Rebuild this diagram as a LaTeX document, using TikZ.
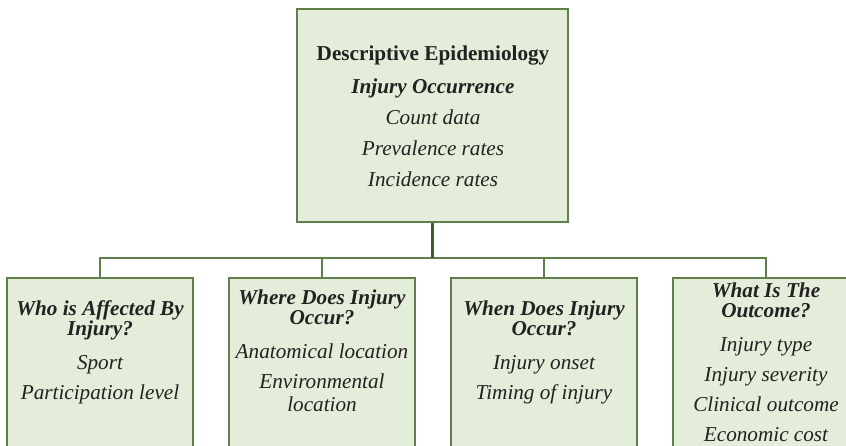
\documentclass[tikz,border=0pt]{standalone}
\usepackage{fontspec}
\setmainfont{Liberation Serif}
\definecolor{boxfill}{HTML}{E3EDD9}
\definecolor{boxline}{HTML}{5E7F4A}
\definecolor{stemline}{HTML}{3B5E2B}
\definecolor{ink}{HTML}{222222}

\begin{document}
\begin{tikzpicture}[x=1pt,y=-1pt,
  panel/.style={draw=boxline, fill=boxfill, line width=1.6pt, inner sep=0pt},
  topbox/.style={panel, minimum width=271pt, minimum height=213pt},
  catbox/.style={panel, minimum width=186pt, minimum height=200pt, anchor=north},
  body/.style={align=center, inner sep=0pt, anchor=north, text=ink,
    font=\fontsize{21.2}{30}\selectfont\itshape},
  head/.style={body, font=\fontsize{21.2}{31}\selectfont\itshape},
  link/.style={draw=boxline, line width=1.3pt},
  stem/.style={draw=stemline, line width=2.4pt}]

\useasboundingbox (0,0) rectangle (846,445);
\begin{scope}
  \clip (0,0) rectangle (846,445);

  % boxes
  \node[topbox] (top) at (432.5,115.5) {};
  \node[catbox] (who)   at (100,277) {};
  \node[catbox] (where) at (322,277) {};
  \node[catbox] (when)  at (544,277) {};
  \node[catbox] (what)  at (766,277) {};

  % tree connectors
  \coordinate (bus) at (432.5,258);
  \draw[link] (who.north) |- (bus) -| (what.north);
  \draw[link] (where.north) -- (where.north |- bus);
  \draw[link] (when.north) -- (when.north |- bus);
  \draw[stem] (top.south) -- (bus);

  % box texts
  \node[head] (toptext) at (433,45.5)
    {{\bfseries\upshape Descriptive Epidemiology}\\[2pt]
     {\bfseries Injury Occurrence}\\
     Count data\\ Prevalence rates\\ Incidence rates};
  \node[body] (whotext) at (100,300.5)
    {{\bfseries Who is Affected By}\\[-10pt]
     {\bfseries Injury?}\\[4pt]
     Sport\\ Participation level};
  \node[body] (wheretext) at (322,289.5)
    {{\bfseries Where Does Injury}\\[-10pt]
     {\bfseries Occur?}\\[4pt]
     Anatomical location\\ Environmental\\[-7pt] location};
  \node[body] (whentext) at (544,300.5)
    {{\bfseries When Does Injury}\\[-10pt]
     {\bfseries Occur?}\\[4pt]
     Injury onset\\ Timing of injury};
  \node[body] (whattext) at (766,282.5)
    {{\bfseries What Is The}\\[-10pt]
     {\bfseries Outcome?}\\[4pt]
     Injury type\\ Injury severity\\ Clinical outcome\\ Economic cost};
\end{scope}
\end{tikzpicture}
\end{document}
